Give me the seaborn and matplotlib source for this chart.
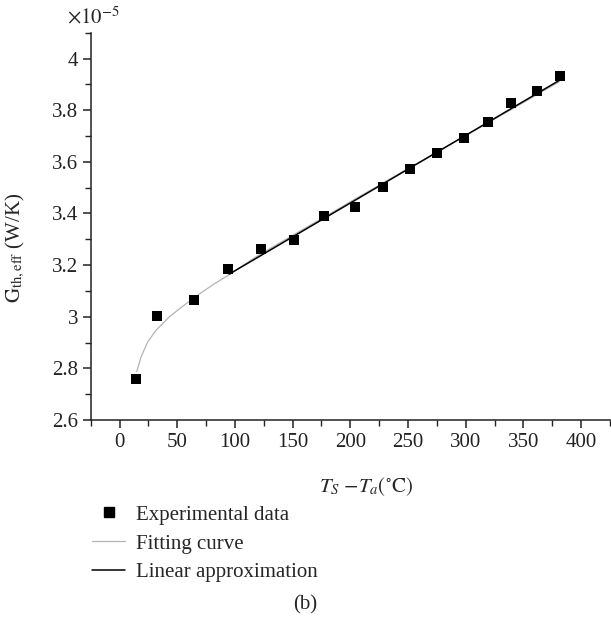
import matplotlib
matplotlib.use('Agg')
import matplotlib.pyplot as plt
import seaborn as sns
from matplotlib.ticker import MultipleLocator, FuncFormatter
from matplotlib.lines import Line2D

# Experimental points (temperature difference, G_th,eff in 1e-5 W/K)
exp_dt = [14.1, 32.2, 64.7, 94.1, 122.3, 151.4, 177.0, 203.8, 228.2,
          252.1, 275.1, 298.1, 319.7, 339.6, 361.5, 381.6]
exp_g = [2.759, 3.004, 3.065, 3.183, 3.261, 3.297, 3.390, 3.426, 3.503,
         3.572, 3.636, 3.694, 3.754, 3.827, 3.875, 3.933]

# Fitting curve
fit_dt = [14.9, 18.7, 24.5, 31.7, 43.2, 56.1, 65.6, 80.6, 95.0, 120.0,
          150.0, 200.0, 250.0, 300.0, 350.0, 381.0]
fit_g = [2.787, 2.845, 2.903, 2.948, 3.000, 3.045, 3.077, 3.123, 3.163,
         3.237, 3.315, 3.445, 3.574, 3.701, 3.830, 3.910]

# Linear approximation end points
lin_dt = [95.0, 381.3]
lin_g = [3.165, 3.916]

sns.set_style('ticks')
plt.rcParams['font.family'] = ['Liberation Serif', 'DejaVu Serif']
plt.rcParams['mathtext.fontset'] = 'stix'

FS = 15
fig = plt.figure(figsize=(6.11, 6.23), dpi=100)
ax = fig.add_axes([0.1484, 0.3258, 0.8500, 0.6217])

sns.lineplot(x=fit_dt, y=fit_g, ax=ax, color='#b4b4b4', linewidth=0.9)
sns.lineplot(x=lin_dt, y=lin_g, ax=ax, color='black', linewidth=1.1)
sns.scatterplot(x=exp_dt, y=exp_g, ax=ax, marker='s', s=52, color='black',
                edgecolor='black', linewidth=0, zorder=5)

ax.set_xlim(-25, 425)
ax.set_ylim(2.6, 4.1)
ax.xaxis.set_major_locator(MultipleLocator(50))
ax.xaxis.set_minor_locator(MultipleLocator(25))
ax.yaxis.set_major_locator(MultipleLocator(0.2))
ax.yaxis.set_minor_locator(MultipleLocator(0.1))
ax.yaxis.set_major_formatter(FuncFormatter(lambda v, p: '%g' % round(v, 2)))
ax.xaxis.set_major_formatter(FuncFormatter(lambda v, p: '%g' % v))

sns.despine(ax=ax)
for s in ['left', 'bottom']:
    ax.spines[s].set_linewidth(1.1)
    ax.spines[s].set_color('#222222')
ax.tick_params(which='major', length=6, width=1.1, labelsize=FS, pad=3, colors='#222222')
ax.tick_params(which='minor', length=4, width=1.0, colors='#222222')

ax.set_xlabel(r'$T_S\ {-}T_a(^{\circ}\mathrm{C})$', fontsize=FS)
ax.xaxis.set_label_coords(0.53, -0.142)
ax.set_ylabel(r'$\mathrm{G}_{\mathrm{th,eff}}$ (W/K)', fontsize=FS)
ax.yaxis.set_label_coords(-0.123, 0.444)

fig.text(67 / 611, 1 - 18 / 623, r'$\times 10^{-5}$', fontsize=FS, va='center', ha='left')

handles = [
    Line2D([], [], marker='s', linestyle='none', color='black', markersize=6.5),
    Line2D([], [], color='#b4b4b4', linewidth=0.9),
    Line2D([], [], color='black', linewidth=1.1),
]
labels = ['Experimental data', 'Fitting curve', 'Linear approximation']
fig.legend(handles, labels, loc='upper left', bbox_to_anchor=(92 / 611, 1 - 505 / 623),
           frameon=False, fontsize=FS, borderaxespad=0, borderpad=0,
           handlelength=1.6, handletextpad=0.5, labelspacing=0.45)

fig.text(305 / 611, 1 - 605 / 623, '(b)', fontsize=FS, ha='center', va='center')

fig.savefig('out.png', dpi=100)
